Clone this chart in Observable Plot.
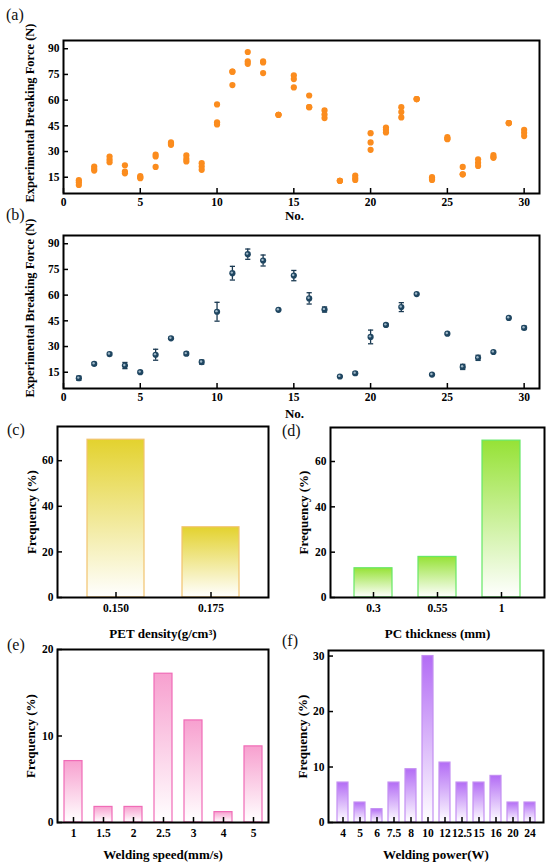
<!DOCTYPE html>
<html><head><meta charset="utf-8">
<script src="https://cdn.jsdelivr.net/npm/d3@7"></script>
<script src="https://cdn.jsdelivr.net/npm/@observablehq/plot@0.6"></script>
<style>
body{margin:0;background:#fff;}
#wrap{position:relative;width:550px;height:868px;overflow:hidden;font-family:"Liberation Serif","Times New Roman",serif;background:#fff;}
.panel{position:absolute;}
.plabel{position:absolute;font-size:16px;line-height:16px;color:#111;font-family:"Liberation Serif","Times New Roman",serif;}
</style></head><body><div id="wrap"></div>
<script>
// ---------- data ----------
const sampleNo = [1,2,3,4,5,6,7,8,9,10,11,12,13,14,15,16,17,18,19,20,21,22,23,24,25,26,27,28,29,30];
const forceRep1 = [13.3,21.2,27.1,22.0,15.6,28.2,35.3,27.7,23.2,57.5,76.6,88.1,82.6,51.4,74.4,62.7,54.0,12.9,16.0,40.7,44.0,55.9,60.6,15.0,38.4,21.0,25.5,27.9,46.6,42.7];
const forceRep2 = [12.0,19.9,25.3,18.3,15.0,27.1,34.5,25.7,21.2,47.1,76.6,82.6,82.0,51.4,72.3,55.9,51.6,12.9,14.5,35.3,42.7,53.0,60.6,14.0,37.5,16.7,23.4,26.8,46.6,40.9];
const forceRep3 = [10.5,18.9,23.8,17.3,14.4,21.0,33.9,24.2,19.3,45.8,68.8,81.2,75.8,51.4,67.4,55.9,49.5,12.9,13.4,31.0,41.1,49.9,60.6,13.4,37.2,16.7,21.6,26.3,46.6,39.0];
const meanForce = [11.5,19.9,25.6,18.9,15.0,25.2,34.8,25.8,20.9,50.3,72.8,83.9,80.2,51.4,71.4,58.1,51.6,12.5,14.4,35.6,42.6,53.0,60.6,13.6,37.5,18.1,23.4,26.8,46.7,40.9];
const errForce = [1.2,0.8,0.9,1.8,0.6,3.2,0.6,0.9,1.2,5.5,4.0,3.0,3.2,0.3,3.0,3.3,1.5,0.3,0.8,4.0,0.6,2.6,0.3,0.5,0.4,1.5,1.5,0.5,0.3,1.0];
const noTicks = [0,5,10,15,20,25,30];
const forceTicks = [15,30,45,60,75,90];

const petDensity = ["0.150","0.175"];
const petFreq = [69.2,30.8];
const pcThickness = ["0.3","0.55","1"];
const pcFreq = [12.9,17.9,69.2];
const weldSpeed = ["1","1.5","2","2.5","3","4","5"];
const speedFreq = [7.1,1.8,1.8,17.2,11.8,1.2,8.8];
const weldPower = ["4","5","6","7.5","8","10","12","12.5","15","16","20","24"];
const powerFreq = [7.2,3.6,2.4,7.2,9.6,30.0,10.8,7.2,7.2,8.4,3.6,3.6];
const freqTicksCD = [0,20,40,60];
const freqTicksE = [0,10,20];
const freqTicksF = [0,10,20,30];

// ---------- helpers ----------
const FONT = '"Liberation Serif","Times New Roman",serif';
const baseStyle = {background:"transparent",overflow:"visible",fontFamily:FONT,fontWeight:"bold",fontSize:"11.5px",color:"#000"};
const wrap = document.getElementById("wrap");
function place(node, left, top){
  const d = document.createElement("div");
  d.className = "panel"; d.style.left = left+"px"; d.style.top = top+"px";
  d.appendChild(node); wrap.appendChild(d);
}
function label(txt, left, top){
  const d = document.createElement("div");
  d.className = "plabel"; d.style.left = left+"px"; d.style.top = top+"px";
  d.textContent = txt; wrap.appendChild(d);
}
const hline = {draw(context, size){ const r = Math.sqrt(size/Math.PI); context.moveTo(-r,0); context.lineTo(r,0); }};
const axisFont = {fontFamily:FONT,fontWeight:"bold",fontSize:11.5};

function scatterPanel({kind, top, xTitleDy}){
  const W=550,H=230,mt=40,mb=37,ml=63,mr=11;
  const fh=H-mt-mb, fw=W-ml-mr;
  const marks = [
    Plot.axisX(noTicks,{tickSize:0,tickPadding:4,label:null,...axisFont}),
    Plot.axisY(forceTicks,{tickSize:0,tickPadding:4,label:null,...axisFont}),
    Plot.tickX(noTicks,{x:d=>d,insetTop:fh-5,stroke:"#000",strokeWidth:1.5}),
    Plot.tickY(forceTicks,{y:d=>d,insetRight:fw-5,stroke:"#000",strokeWidth:1.5})
  ];
  if (kind === "a") {
    const rows = sampleNo.flatMap((n,i)=>[forceRep1[i],forceRep2[i],forceRep3[i]].map(v=>({no:n,force:v})));
    marks.push(Plot.dot(rows,{x:"no",y:"force",r:3.1,fill:"#fb8c1e",stroke:null}));
  } else {
    const rows = sampleNo.map((n,i)=>({no:n,mean:meanForce[i],lo:meanForce[i]-errForce[i],hi:meanForce[i]+errForce[i]}));
    marks.push(
      Plot.ruleX(rows,{x:"no",y1:"lo",y2:"hi",stroke:"#1b3a52",strokeWidth:1.3}),
      Plot.dot(rows,{x:"no",y:"lo",symbol:hline,r:2.6,stroke:"#1b3a52",strokeWidth:1.3,fill:"none"}),
      Plot.dot(rows,{x:"no",y:"hi",symbol:hline,r:2.6,stroke:"#1b3a52",strokeWidth:1.3,fill:"none"}),
      Plot.dot(rows,{x:"no",y:"mean",r:3.1,fill:"#1f4661",stroke:null}),
      Plot.dot(rows,{x:"no",y:"mean",r:1.2,fill:"#9db6c6",stroke:null,dx:-0.6,dy:-0.6})
    );
  }
  marks.push(
    Plot.text(["No."],{frameAnchor:"bottom",lineAnchor:"middle",textAnchor:"middle",dy:xTitleDy,dx:-7,fontSize:13,fontWeight:"bold",fontFamily:FONT}),
    Plot.text(["Experimental Breaking Force (N)"],{frameAnchor:"left",textAnchor:"middle",lineAnchor:"middle",rotate:-90,dx:-34,dy:-4,fontSize:12.5,fontWeight:"bold",fontFamily:FONT}),
    Plot.frame({stroke:"#000",strokeWidth:2})
  );
  const p = Plot.plot({width:W,height:H,marginTop:mt,marginBottom:mb,marginLeft:ml,marginRight:mr,style:baseStyle,
    x:{domain:[0,31]}, y:{domain:[5.5,94.8]}, marks});
  place(p, 0, top);
}

function barPanel({cats,freqs,yDomain,yTicks,gid,topColor,stroke,xTitle,left,top,W,H,mt,mb,ml,mr,pi,po,yTitleDx,xTitleDy}){
  const fh=H-mt-mb, fw=W-ml-mr;
  const rows = cats.map((c,i)=>({cat:c,freq:freqs[i]}));
  const p = Plot.plot({width:W,height:H,marginTop:mt,marginBottom:mb,marginLeft:ml,marginRight:mr,style:baseStyle,
    x:{type:"band",domain:cats,paddingInner:pi,paddingOuter:po},
    y:{domain:yDomain},
    marks:[
      Plot.axisX({tickSize:0,tickPadding:6,label:null,...axisFont}),
      Plot.axisY(yTicks,{tickSize:0,tickPadding:4,label:null,...axisFont}),
      Plot.barY(rows,{x:"cat",y:"freq",fill:`url(#${gid})`,stroke:stroke,strokeWidth:1.2}),
      Plot.tickX(cats,{x:d=>d,insetTop:fh-5,stroke:"#000",strokeWidth:1.5}),
      Plot.tickY(yTicks,{y:d=>d,insetRight:fw-5,stroke:"#000",strokeWidth:1.5}),
      Plot.text([xTitle],{frameAnchor:"bottom",lineAnchor:"middle",textAnchor:"middle",dy:xTitleDy,fontSize:13,fontWeight:"bold",fontFamily:FONT,letterSpacing:"0.4px"}),
      Plot.text(["Frequency (%)"],{frameAnchor:"left",textAnchor:"middle",lineAnchor:"middle",rotate:-90,dx:yTitleDx,fontSize:13,fontWeight:"bold",fontFamily:FONT}),
      Plot.frame({stroke:"#000",strokeWidth:2})
    ]});
  const defs = d3.select(p).insert("defs",":first-child");
  const g = defs.append("linearGradient").attr("id",gid).attr("x1",0).attr("y1",0).attr("x2",0).attr("y2",1);
  g.append("stop").attr("offset","0").attr("stop-color",topColor);
  g.append("stop").attr("offset","1").attr("stop-color","#ffffff");
  place(p, left, top);
}

// ---------- panels ----------
scatterPanel({kind:"a", top:0, xTitleDy:22});
scatterPanel({kind:"b", top:195, xTitleDy:25});

barPanel({cats:petDensity,freqs:petFreq,yDomain:[0,75],yTicks:freqTicksCD,gid:"gYellow",topColor:"#e3d22e",stroke:"#f2c36e",
  xTitle:"PET density(g/cm³)",left:0,top:395,W:275,H:250,mt:31,mb:48,ml:57,mr:7,pi:0.4,po:0.3,yTitleDx:-26,xTitleDy:36});
barPanel({cats:pcThickness,freqs:pcFreq,yDomain:[0,75],yTicks:freqTicksCD,gid:"gGreen",topColor:"#96e236",stroke:"#66e866",
  xTitle:"PC thickness (mm)",left:275,top:395,W:275,H:250,mt:32,mb:48,ml:55,mr:6,pi:0.4,po:0.37,yTitleDx:-27,xTitleDy:36});
barPanel({cats:weldSpeed,freqs:speedFreq,yDomain:[0,20],yTicks:freqTicksE,gid:"gPink",topColor:"#f7a0cf",stroke:"#f06cb7",
  xTitle:"Welding speed(mm/s)",left:0,top:620,W:275,H:248,mt:29,mb:46,ml:57,mr:7,pi:0.41,po:0.22,yTitleDx:-26.5,xTitleDy:32});
barPanel({cats:weldPower,freqs:powerFreq,yDomain:[0,31],yTicks:freqTicksF,gid:"gPurple",topColor:"#b36cf5",stroke:"#c48ff2",
  xTitle:"Welding power(W)",left:275,top:620,W:275,H:248,mt:30,mb:46,ml:53,mr:7,pi:0.36,po:0.24,yTitleDx:-25.5,xTitleDy:32});

label("(a)",6,7);
label("(b)",6,207);
label("(c)",7,422);
label("(d)",282,423);
label("(e)",7,637);
label("(f)",282,633);
</script>
</body></html>
